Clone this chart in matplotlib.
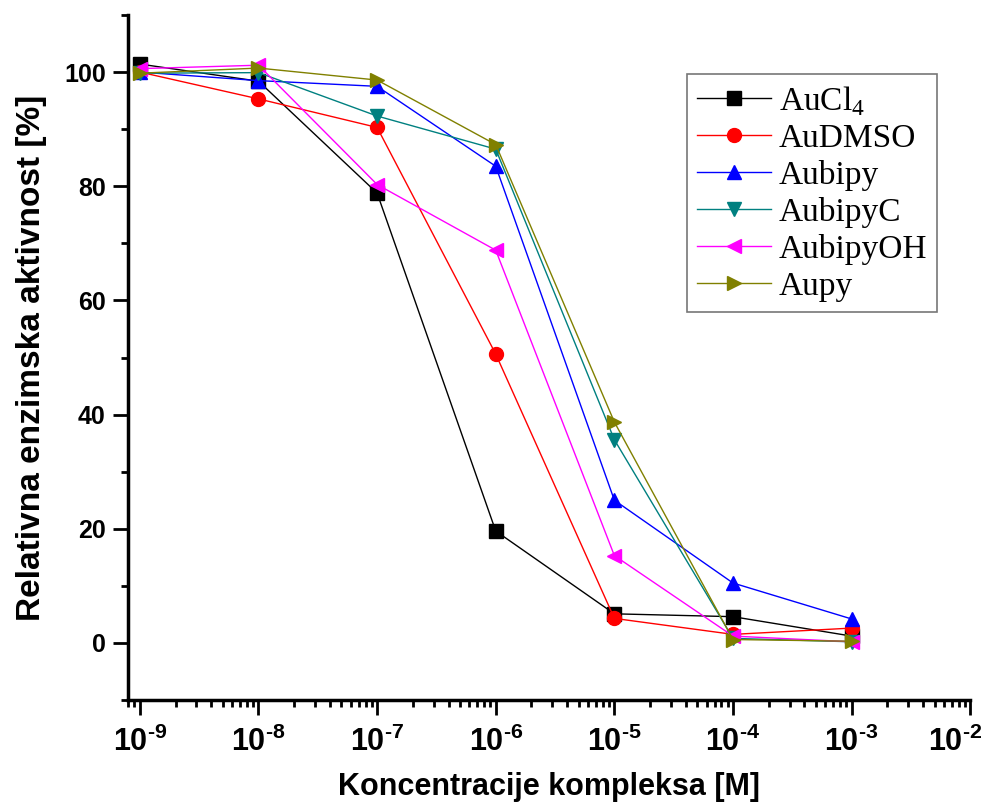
import numpy as np
import matplotlib
matplotlib.use('Agg')
import matplotlib.pyplot as plt
from matplotlib.ticker import FixedLocator, LogLocator, NullFormatter, FuncFormatter, MultipleLocator
from matplotlib.transforms import ScaledTranslation

plt.rcParams['font.family'] = 'Liberation Sans'
plt.rcParams['mathtext.fontset'] = 'custom'
plt.rcParams['mathtext.rm'] = 'Liberation Sans:bold'
plt.rcParams['mathtext.sf'] = 'Liberation Serif'

conc = [1e-9, 1e-8, 1e-7, 1e-6, 1e-5, 1e-4, 1e-3]
auCl4 = [101.4, 98.4, 78.8, 19.6, 5.1, 4.6, 1.2]
auDMSO = [100.0, 95.3, 90.3, 50.6, 4.3, 1.5, 2.6]
aubipy = [100.0, 98.5, 97.5, 83.5, 25.0, 10.5, 4.2]
aubipyC = [99.8, 99.9, 92.3, 86.5, 35.6, 0.8, 0.2]
aubipyOH = [100.6, 101.2, 80.3, 68.8, 15.3, 1.2, 0.2]
aupy = [99.8, 100.7, 98.6, 87.3, 38.7, 0.6, 0.3]

labels = [r'AuCl$_\mathsf{4}$', 'AuDMSO', 'Aubipy', 'AubipyC', 'AubipyOH', 'Aupy']
series = [auCl4, auDMSO, aubipy, aubipyC, aubipyOH, aupy]
colors = ['black', 'red', 'blue', '#008080', 'magenta', '#808000']
markers = ['s', 'o', '^', 'v', '<', '>']

fig = plt.figure(figsize=(9.87, 8.05), dpi=100)
ax = fig.add_axes([0.1297, 0.1304, 0.8533, 0.8510])

for vals, lab, c, m in zip(series, labels, colors, markers):
    ax.plot(conc, vals, color=c, marker=m, markersize=10, linewidth=1, label=lab)

ax.set_xscale('log')
ax.set_xlim(10**-9.1, 1e-2)
ax.set_ylim(-10, 110)

ax.spines['top'].set_visible(False)
ax.spines['right'].set_visible(False)
for s in ['left', 'bottom']:
    ax.spines[s].set_linewidth(2.5)

ax.xaxis.set_major_locator(FixedLocator([10.0**k for k in range(-9, -1)]))
ax.xaxis.set_minor_locator(LogLocator(base=10, subs=np.arange(2, 10), numticks=20))
ax.xaxis.set_minor_formatter(NullFormatter())
ax.xaxis.set_major_formatter(FuncFormatter(lambda v, p: r'$\mathrm{10^{\text{-}%d}}$' % abs(round(np.log10(v)))))
ax.yaxis.set_major_locator(FixedLocator([0, 20, 40, 60, 80, 100]))
ax.yaxis.set_minor_locator(MultipleLocator(10))

ax.tick_params(which='major', direction='out', length=11, width=2)
ax.tick_params(which='minor', direction='out', length=5, width=2)
ax.tick_params(axis='x', labelsize=22, pad=8)
ax.tick_params(axis='y', labelsize=18, pad=5)
for t in ax.get_yticklabels():
    t.set_fontweight('bold')

ax.set_xlabel('Koncentracije kompleksa [M]', fontsize=22, fontweight='bold', labelpad=10)
ax.set_ylabel('Relativna enzimska aktivnost [%]', fontsize=24, fontweight='bold', labelpad=12)

leg = ax.legend(loc='upper right', bbox_to_anchor=(0.961, 0.914), borderaxespad=0,
                prop={'family': 'Liberation Serif', 'size': 24}, frameon=True, fancybox=False,
                handlelength=2.2, labelspacing=0.18, borderpad=0.3, handletextpad=0.25)
leg.get_frame().set_edgecolor('#555555')
leg.get_frame().set_linewidth(1.2)

# last x tick label sits a bit left of its tick so it stays inside the figure
fig.canvas.draw()
last = ax.xaxis.get_majorticklabels()[-1]
last.set_transform(last.get_transform() + ScaledTranslation(-0.15, 0, fig.dpi_scale_trans))

fig.savefig('out.png', dpi=100)
